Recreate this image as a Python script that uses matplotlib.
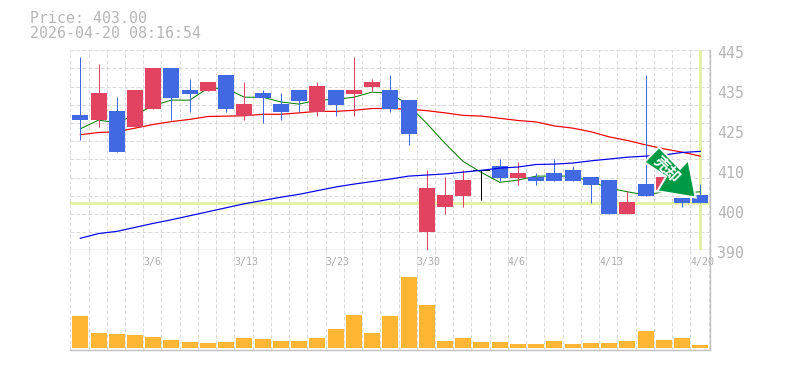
"""
Candlestick chart with moving averages and a volume panel.
"""

import matplotlib
matplotlib.use("Agg")
import matplotlib.pyplot as plt
from matplotlib.patches import Polygon
from matplotlib.transforms import Affine2D

# ---------------------------------------------------------------------------
# Data
# ---------------------------------------------------------------------------
opens = [427.2, 425.8, 428.3, 423.9, 428.9, 440.1, 434.1, 433.8, 438.2, 426.9, 433.3, 430.2,
         434.1, 428.0, 434.1, 433.0, 434.9, 434.1, 431.3, 395.0, 401.9, 404.9, 412.0, 413.2,
         409.9, 410.2, 411.3, 412.1, 410.2, 409.3, 400.0, 408.2, 406.6, 404.4, 405.2]
closes = [425.8, 433.3, 417.0, 434.1, 440.1, 431.9, 433.0, 436.3, 428.9, 430.2, 431.9, 428.0,
          431.1, 435.2, 430.0, 434.1, 436.3, 428.9, 422.0, 407.1, 405.2, 409.3, 412.0, 409.9,
          411.3, 409.1, 409.1, 409.1, 408.0, 400.0, 403.3, 404.9, 410.2, 403.0, 403.0]
highs = [443.1, 441.2, 432.2, 434.1, 440.1, 440.1, 437.1, 436.3, 438.2, 436.3, 434.1, 433.3,
         434.1, 436.3, 434.1, 443.1, 437.1, 438.2, 431.3, 412.1, 410.2, 412.1, 412.1, 415.1,
         414.3, 411.3, 415.1, 413.2, 410.2, 409.3, 406.3, 438.2, 410.2, 404.4, 408.2]
lows = [420.2, 423.9, 417.0, 423.9, 428.9, 425.8, 428.0, 433.8, 428.0, 425.8, 425.0, 425.8,
        428.0, 426.9, 426.9, 426.9, 433.8, 428.0, 419.0, 390.0, 400.0, 401.9, 403.8, 409.1,
        408.0, 408.0, 409.1, 409.1, 403.0, 400.0, 400.0, 404.9, 406.6, 401.9, 403.0]

ma_short = [423.4, 425.8, 425.1, 427.2, 429.8, 431.3, 431.3, 434.6, 434.5, 432.1, 432.1, 430.8,
            430.2, 431.3, 431.5, 432.1, 433.5, 433.2, 429.9, 424.9, 419.4, 414.4, 411.4, 408.7,
            409.3, 410.4, 410.4, 410.4, 408.9, 407.1, 406.1, 405.2, 406.1, 405.7, 406.1]
ma_mid = [421.8, 422.4, 422.6, 423.6, 424.6, 425.4, 426.0, 426.8, 426.9, 427.0, 427.4, 427.4,
          427.8, 428.2, 428.2, 428.5, 429.0, 429.0, 428.8, 428.4, 427.8, 427.1, 426.9, 426.3,
          425.7, 425.3, 424.2, 423.6, 422.6, 421.2, 420.2, 419.0, 417.9, 417.0, 415.9]
ma_long = [393.3, 394.6, 395.2, 396.3, 397.4, 398.4, 399.5, 400.6, 401.7, 402.8, 403.7, 404.6,
           405.4, 406.4, 407.4, 408.2, 408.9, 409.6, 410.4, 410.7, 411.0, 411.5, 412.0, 412.6,
           412.9, 413.6, 413.7, 414.0, 414.6, 415.1, 415.6, 415.9, 416.2, 416.9, 417.2]

volumes = [96, 45, 42, 39, 33, 24, 18, 15, 18, 30, 27, 21, 21, 30, 57, 99, 45, 96, 213, 129,
           21, 30, 18, 18, 12, 12, 21, 12, 15, 15, 21, 51, 24, 30, 9]

date_ticks = [4, 9, 14, 19, 24, 29, 34]
date_labels = ["3/6", "3/13", "3/23", "3/30", "4/6", "4/13", "4/20"]
price_ticks = [445, 434, 423, 412, 401, 390]
price_labels = ["445", "435", "425", "410", "400", "390"]
last_price = 403

# Colors
UP_COLOR = "#E24360"
DOWN_COLOR = "#4169E1"
HIGHLIGHT = "#E4F2A8"
TEXT_COLOR = "#B6B6B6"
GRID_COLOR = "#DADADA"
FRAME_COLOR = "#C2C2C2"
VOL_COLOR = "#FFB733"
ARROW_COLOR = "#009944"

PX = 0.72  # one pixel in points at dpi 100
DASH = (0, (4, 2))

plt.rcParams["font.family"] = ["DejaVu Sans Mono"]

# ---------------------------------------------------------------------------
# Plot
# ---------------------------------------------------------------------------
W, H = 785, 370
STEP = 18.235
fig = plt.figure(figsize=(W / 100, H / 100), dpi=100)
fig.patch.set_facecolor("white")


def panel(top, bottom):
    return fig.add_axes([70 / W, 1 - bottom / H, 640 / W, (bottom - top) / H])


ax = panel(50.3, 250.3)
ax_vol = panel(250.3, 350)
xlim = (-10.3 / STEP, 34 + 9.7 / STEP)
boundaries = [i - 10 / STEP for i in range(36)]

# Price panel
ax.set_xlim(xlim)
ax.set_ylim(390, 445)
for b in boundaries:
    ax.axvline(b, color=GRID_COLOR, lw=PX, ls=DASH, zorder=0)
for p in range(390, 446, 5):
    ax.axhline(p, color=GRID_COLOR, lw=PX, ls=DASH, zorder=0)

ax.axhline(last_price, color=HIGHLIGHT, lw=3 * PX, zorder=1)
ax.plot([34, 34], [390.4, 444.8], color=HIGHLIGHT, lw=3 * PX, zorder=1)

x = list(range(len(opens)))
ax.plot(x, ma_short, color="#007A00", lw=PX, zorder=2)
ax.plot(x, ma_mid, color="#F00000", lw=PX * 1.2, zorder=2)

for i, (o, c, h, l) in enumerate(zip(opens, closes, highs, lows)):
    if o == c:
        color = "black"
    else:
        color = UP_COLOR if c > o else DOWN_COLOR
    ax.plot([i, i], [l, h], color=color, lw=PX, solid_capstyle="butt", zorder=3)
    if o == c:
        ax.plot([i - 0.44, i + 0.44], [o, o], color=color, lw=PX, zorder=3)
    else:
        ax.bar(i, abs(c - o), bottom=min(o, c), width=16 / STEP, color=color, lw=0, zorder=3)

ax.plot(x, ma_long, color="#0000F0", lw=PX * 1.2, zorder=4)

# Sell signal arrow, vertices are pixel offsets from the tip (y down)
tip = ax.transData.transform((33.75, 404.5))
arrow = [(-36.7, -50.4), (-51.4, -35.4), (-29.7, -21), (-38.4, -6.4), (0, 0), (-7.4, -37.7), (-15.7, -28.7)]
arrow_tf = Affine2D().scale(1, -1).translate(*tip)
ax.add_patch(Polygon(arrow, closed=True, facecolor=ARROW_COLOR, edgecolor="white", lw=2 * PX,
                     joinstyle="miter", transform=arrow_tf, zorder=6, clip_on=False))
ax.text(0.932, 0.404, "売却", family=["Noto Sans CJK JP", "DejaVu Sans"], fontsize=11, fontweight="bold",
        color="white", rotation=-45, ha="center", va="center", rotation_mode="anchor",
        transform=ax.transAxes, zorder=7)

ax.set_xticks([])
ax.set_yticks([])
for s in ("top", "left"):
    ax.spines[s].set_visible(False)
for s in ("bottom", "right"):
    ax.spines[s].set_color(FRAME_COLOR)
    ax.spines[s].set_linewidth(PX * 1.4)

for p, lab in zip(price_ticks, price_labels):
    ax.annotate(lab, (1, (p - 390) / 55), xycoords="axes fraction", xytext=(7, -3),
                textcoords="offset pixels", fontsize=10.7, color=TEXT_COLOR, ha="left", va="center")

# Volume panel
ax_vol.set_xlim(xlim)
ax_vol.set_ylim(-6, 293)
for b in boundaries:
    ax_vol.axvline(b, color=GRID_COLOR, lw=PX, ls=DASH, zorder=0)
ax_vol.bar(x, volumes, width=16 / STEP, color=VOL_COLOR, lw=0, zorder=2)
ax_vol.set_xticks([])
ax_vol.set_yticks([])
for s in ("top", "left"):
    ax_vol.spines[s].set_visible(False)
for s in ("bottom", "right"):
    ax_vol.spines[s].set_color(FRAME_COLOR)
    ax_vol.spines[s].set_linewidth(PX * 1.4)

for i, lab in zip(date_ticks, date_labels):
    ax_vol.text(i - 10 / STEP, 0.88, lab, transform=ax_vol.get_xaxis_transform(), fontsize=7.2,
                color="#ADADAD", ha="left", va="center", zorder=1)

fig.text(30 / W, 1 - 18.5 / H, "Price: 403.00", fontsize=10.7, color=TEXT_COLOR, va="center")
fig.text(30 / W, 1 - 33.5 / H, "2026-04-20 08:16:54", fontsize=10.7, color=TEXT_COLOR, va="center")

fig.savefig("out.png", dpi=100)
plt.close(fig)
